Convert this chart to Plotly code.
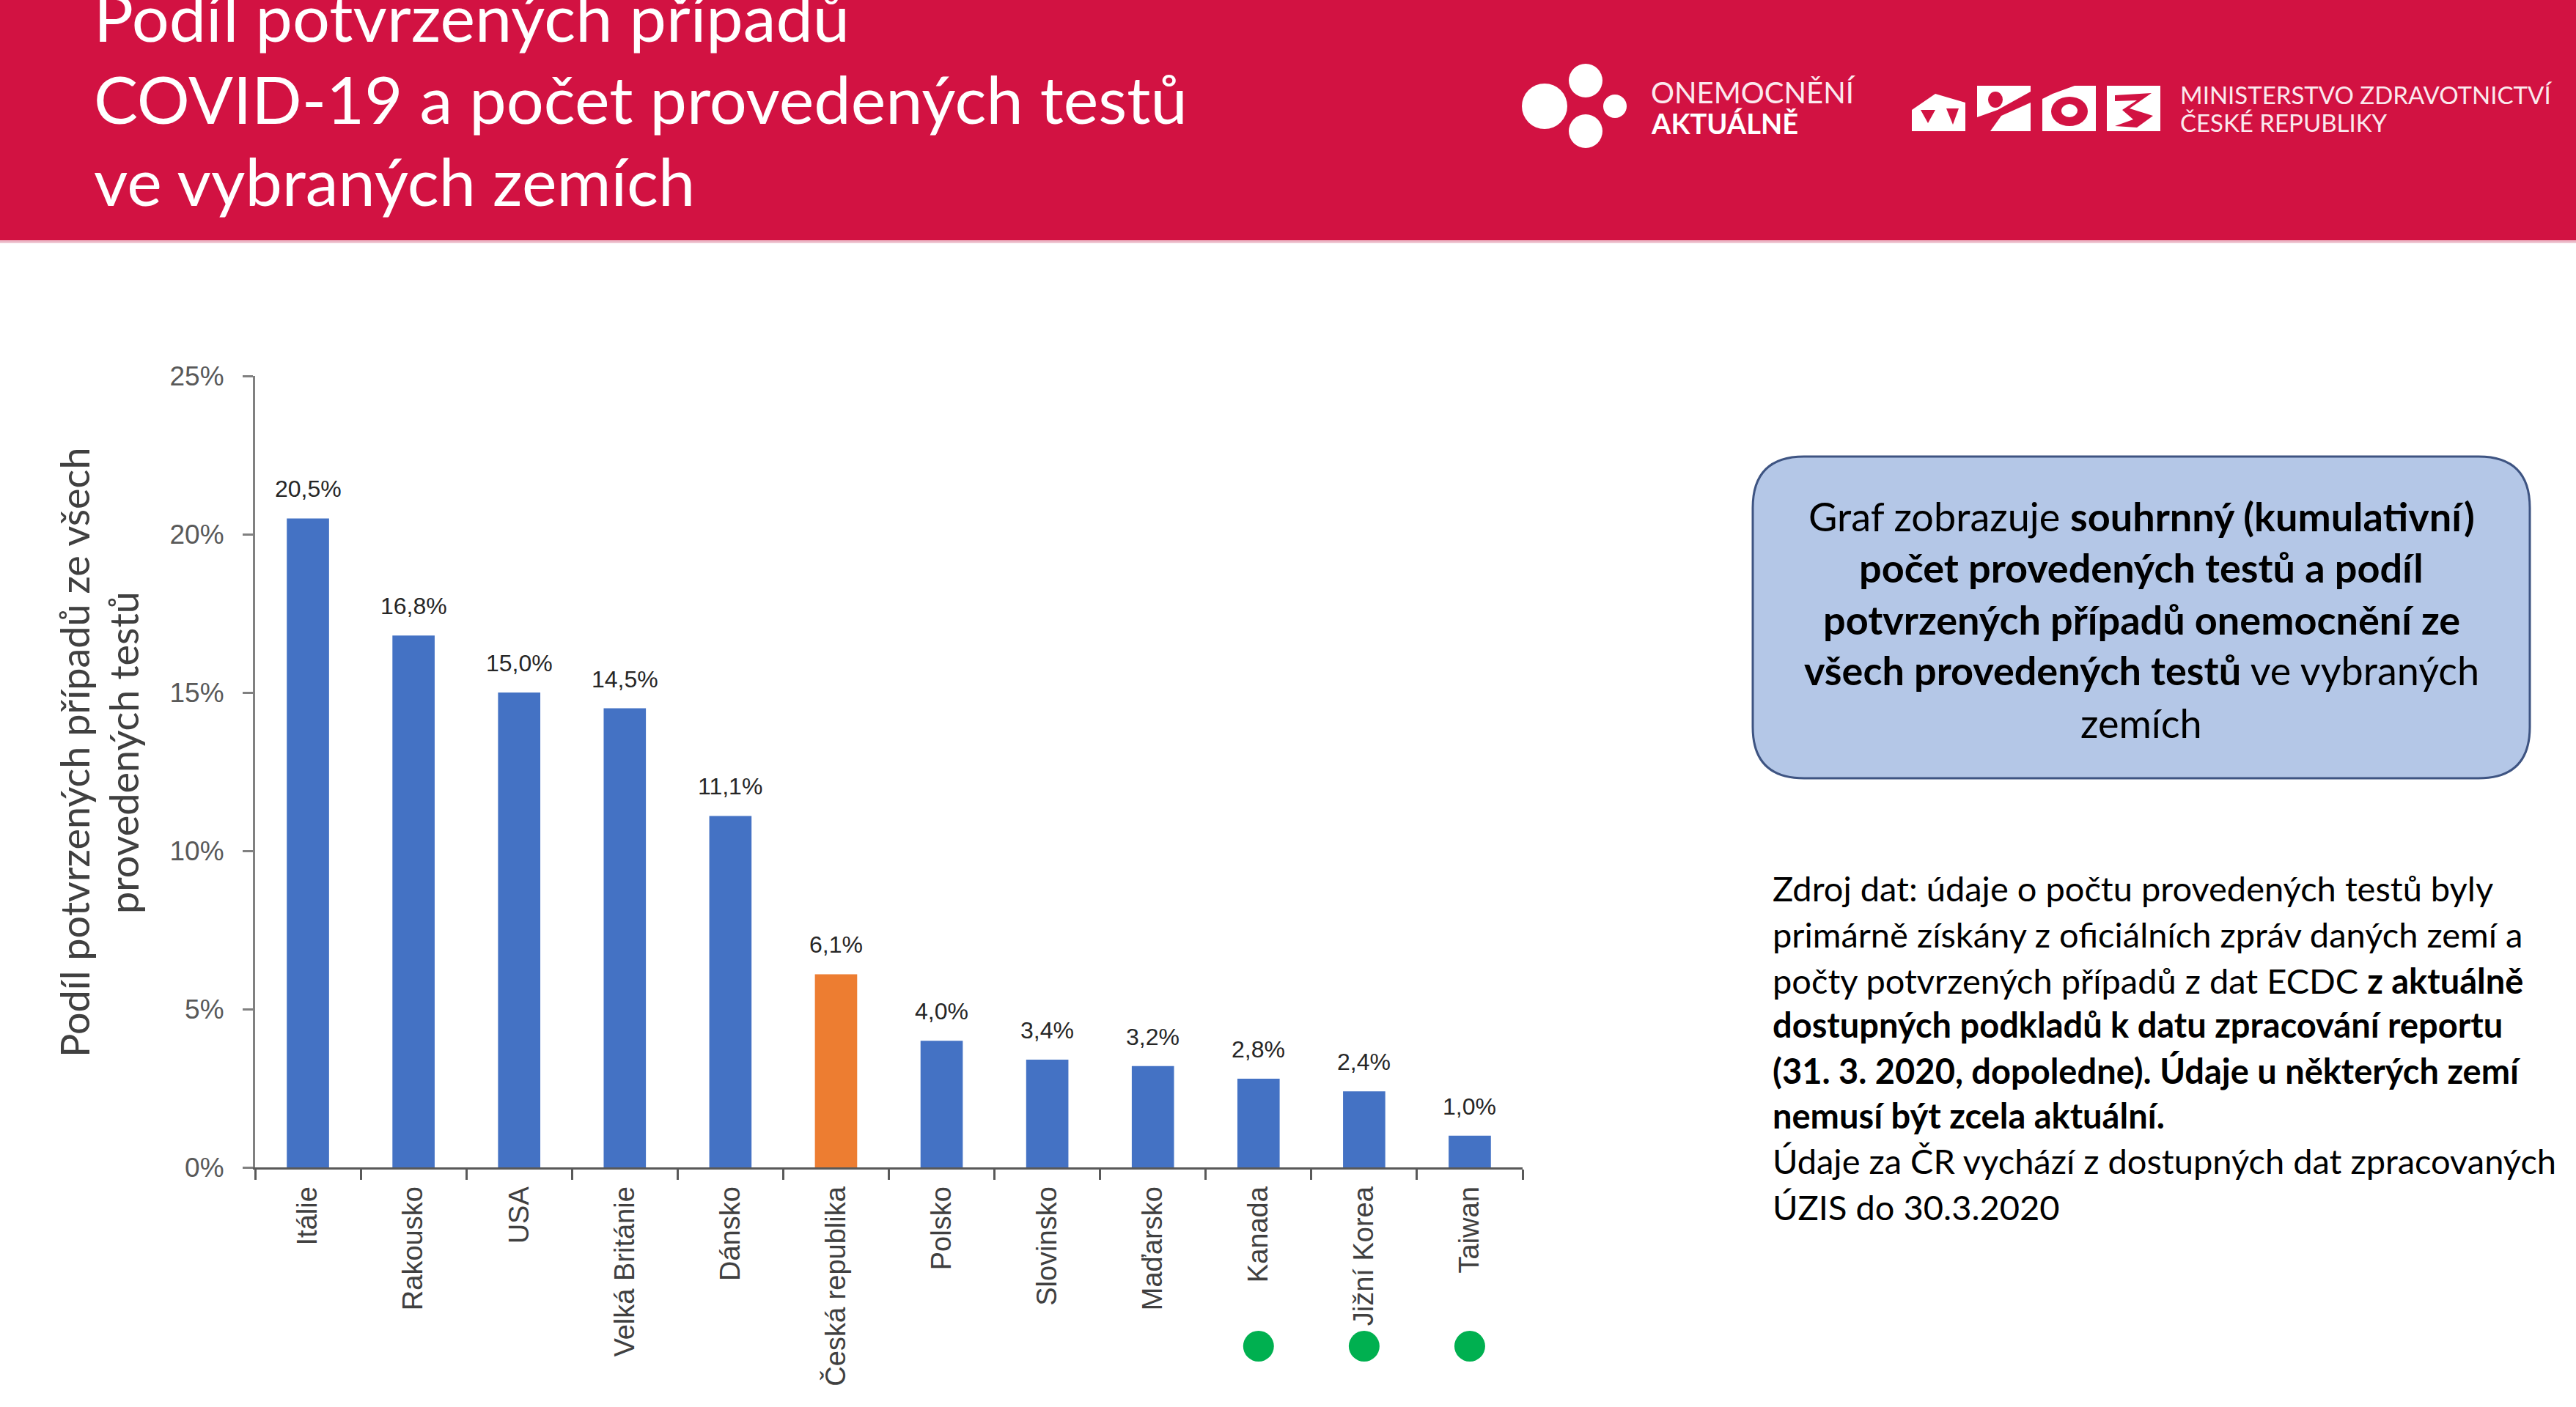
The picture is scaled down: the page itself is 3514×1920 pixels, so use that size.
import plotly.graph_objects as go

# ---------------- data ----------------
countries = ["Itálie", "Rakousko", "USA", "Velká Británie", "Dánsko", "Česká republika",
             "Polsko", "Slovinsko", "Maďarsko", "Kanada", "Jižní Korea", "Taiwan"]
share_pct = [20.5, 16.8, 15.0, 14.5, 11.1, 6.1, 4.0, 3.4, 3.2, 2.8, 2.4, 1.0]
highlight_country = "Česká republika"
green_flag_countries = ["Kanada", "Jižní Korea", "Taiwan"]
y_ticks = [0, 5, 10, 15, 20, 25]
y_tick_text = [f"{v}%" for v in y_ticks]

title_lines = ["Podíl potvrzených případů",
               "COVID-19 a počet provedených testů",
               "ve vybraných zemích"]
yaxis_title_lines = ["Podíl potvrzených případů ze všech", "provedených testů"]
box_lines = ["Graf zobrazuje <b>souhrnný (kumulativní)</b>",
             "<b>počet provedených testů a podíl</b>",
             "<b>potvrzených případů onemocnění ze</b>",
             "<b>všech provedených testů</b> ve vybraných",
             "zemích"]
source_lines = ["Zdroj dat: údaje o počtu provedených testů byly",
                "primárně získány z oficiálních zpráv daných zemí a",
                "počty potvrzených případů z dat ECDC <b>z aktuálně</b>",
                "<b>dostupných podkladů k datu zpracování reportu</b>",
                "<b>(31. 3. 2020, dopoledne). Údaje u některých zemí</b>",
                "<b>nemusí být zcela aktuální.</b>",
                "Údaje za ČR vychází z dostupných dat zpracovaných",
                "ÚZIS do 30.3.2020"]

# ---------------- helpers ----------------
W, H = 3514, 1920
def PX(x): return x / W
def PY(y): return 1 - y / H

RED = "#D21242"
BLUE = "#4472C4"
ORANGE = "#ED7D31"
CAL = "Lato, 'Open Sans', sans-serif"
ARIAL = "'Liberation Sans', Arial, sans-serif"

colors = [ORANGE if c == highlight_country else BLUE for c in countries]
labels = [f"{v:.1f}".replace(".", ",") + "%" for v in share_pct]

fig = go.Figure()
fig.add_trace(go.Bar(x=countries, y=share_pct, marker=dict(color=colors, line=dict(width=0)),
                     hoverinfo="x+y"))

annotations = []
shapes = []

# data labels
for c, v, t in zip(countries, share_pct, labels):
    annotations.append(dict(x=c, y=v, xref="x", yref="y", text=t, showarrow=False,
                            yanchor="middle", yshift=40,
                            font=dict(family=ARIAL, size=32, color="#262626")))

# green dots under selected countries
for c in green_flag_countries:
    shapes.append(dict(type="circle", xref="x", yref="paper", xsizemode="pixel", ysizemode="pixel",
                       xanchor=c, yanchor=PY(1837), x0=-21, x1=21, y0=-21, y1=21,
                       fillcolor="#00B050", line=dict(width=0)))

# header band
shapes.append(dict(type="rect", xref="paper", yref="paper", x0=0, x1=1, y0=PY(328), y1=1,
                   fillcolor=RED, line=dict(width=0), layer="below"))
shapes.append(dict(type="line", xref="paper", yref="paper", x0=0, x1=1, y0=PY(330), y1=PY(330),
                   line=dict(color="#EBB7C6", width=3)))

# title
for txt, yc in zip(title_lines, [22, 134, 246]):
    annotations.append(dict(x=PX(126), y=PY(yc), xref="paper", yref="paper", text=txt,
                            showarrow=False, xanchor="left", yanchor="middle",
                            font=dict(family=CAL, size=90, color="white")))

# logo: Onemocnění aktuálně (circles)
for cx, cy, r in [(2107, 145, 31), (2163, 110, 23), (2203, 145, 16), (2163, 179, 23)]:
    shapes.append(dict(type="circle", xref="paper", yref="paper",
                       x0=PX(cx - r), x1=PX(cx + r), y0=PY(cy + r), y1=PY(cy - r),
                       fillcolor="white", line=dict(width=0)))
annotations.append(dict(x=PX(2250), y=PY(126), xref="paper", yref="paper", text="ONEMOCNĚNÍ",
                        showarrow=False, xanchor="left", yanchor="middle",
                        font=dict(family=CAL, size=40, color="#FBE9EE")))
annotations.append(dict(x=PX(2250), y=PY(168), xref="paper", yref="paper", text="<b>AKTUÁLNĚ</b>",
                        showarrow=False, xanchor="left", yanchor="middle",
                        font=dict(family=CAL, size=38, color="white")))

# logo: MZ squares
sq_x = [2608, 2697, 2786, 2874]
for x0 in sq_x:
    shapes.append(dict(type="rect", xref="paper", yref="paper", x0=PX(x0), x1=PX(x0 + 73),
                       y0=PY(179), y1=PY(117), fillcolor="white", line=dict(width=0)))
def path(pts):
    return "M " + " L ".join(f"{PX(x)},{PY(y)}" for x, y in pts) + " Z"
# square 1: red triangles
shapes.append(dict(type="path", xref="paper", yref="paper", path=path([(2608, 117), (2681, 117), (2681, 140), (2640, 128), (2608, 150)]),
                   fillcolor=RED, line=dict(width=0)))
shapes.append(dict(type="path", xref="paper", yref="paper", path=path([(2620, 150), (2640, 150), (2630, 168)]),
                   fillcolor=RED, line=dict(width=0)))
shapes.append(dict(type="path", xref="paper", yref="paper", path=path([(2655, 148), (2672, 148), (2664, 170)]),
                   fillcolor=RED, line=dict(width=0)))
# square 2: "Y"
shapes.append(dict(type="circle", xref="paper", yref="paper", x0=PX(2712), x1=PX(2732), y0=PY(147), y1=PY(125),
                   fillcolor=RED, line=dict(width=0)))
shapes.append(dict(type="path", xref="paper", yref="paper", path=path([(2697, 160), (2725, 150), (2770, 125), (2770, 140), (2730, 158), (2715, 179), (2697, 179)]),
                   fillcolor=RED, line=dict(width=0)))
# square 3: "o"
shapes.append(dict(type="circle", xref="paper", yref="paper", x0=PX(2798), x1=PX(2848), y0=PY(172), y1=PY(132),
                   fillcolor=RED, line=dict(width=0)))
shapes.append(dict(type="circle", xref="paper", yref="paper", x0=PX(2812), x1=PX(2834), y0=PY(160), y1=PY(142),
                   fillcolor="white", line=dict(width=0)))
shapes.append(dict(type="path", xref="paper", yref="paper", path=path([(2786, 117), (2830, 117), (2800, 128), (2786, 135)]),
                   fillcolor=RED, line=dict(width=0)))
# square 4: "3"
shapes.append(dict(type="path", xref="paper", yref="paper", path=path([(2885, 130), (2935, 127), (2905, 148), (2937, 158), (2915, 174), (2885, 172), (2910, 163), (2895, 150), (2915, 137), (2885, 138)]),
                   fillcolor=RED, line=dict(width=0)))
annotations.append(dict(x=PX(2972), y=PY(129), xref="paper", yref="paper", text="MINISTERSTVO ZDRAVOTNICTVÍ",
                        showarrow=False, xanchor="left", yanchor="middle",
                        font=dict(family=CAL, size=33, color="#FBE9EE")))
annotations.append(dict(x=PX(2972), y=PY(167), xref="paper", yref="paper", text="ČESKÉ REPUBLIKY",
                        showarrow=False, xanchor="left", yanchor="middle",
                        font=dict(family=CAL, size=33, color="#FBE9EE")))

# y-axis title (two rotated lines)
for txt, xc in zip(yaxis_title_lines, [101, 168]):
    annotations.append(dict(x=PX(xc), y=PY(1027), xref="paper", yref="paper", text=txt,
                            showarrow=False, textangle=-90, xanchor="center", yanchor="middle",
                            font=dict(family=CAL, size=54, color="#404040")))

# rounded box
bx0, bx1, by0, by1, r = 2391, 3451, 623, 1062, 70
box_path = (f"M {PX(bx0 + r)},{PY(by0)} L {PX(bx1 - r)},{PY(by0)} "
            f"Q {PX(bx1)},{PY(by0)} {PX(bx1)},{PY(by0 + r)} L {PX(bx1)},{PY(by1 - r)} "
            f"Q {PX(bx1)},{PY(by1)} {PX(bx1 - r)},{PY(by1)} L {PX(bx0 + r)},{PY(by1)} "
            f"Q {PX(bx0)},{PY(by1)} {PX(bx0)},{PY(by1 - r)} L {PX(bx0)},{PY(by0 + r)} "
            f"Q {PX(bx0)},{PY(by0)} {PX(bx0 + r)},{PY(by0)} Z")
shapes.append(dict(type="path", xref="paper", yref="paper", path=box_path,
                   fillcolor="#B4C7E7", line=dict(color="#3E5482", width=3)))
for txt, yc in zip(box_lines, [704, 775, 845, 914, 986]):
    annotations.append(dict(x=PX((bx0 + bx1) / 2), y=PY(yc), xref="paper", yref="paper", text=txt,
                            showarrow=False, xanchor="center", yanchor="middle",
                            font=dict(family=CAL, size=54, color="black")))

# source text
for txt, yc in zip(source_lines, [1212, 1275, 1338, 1398, 1461, 1522, 1584, 1647]):
    annotations.append(dict(x=PX(2416), y=PY(yc), xref="paper", yref="paper", text=txt,
                            showarrow=False, xanchor="left", yanchor="middle",
                            font=dict(family=CAL, size=47, color="black")))

fig.update_layout(
    width=W, height=H, margin=dict(l=0, r=0, t=0, b=0),
    paper_bgcolor="white", plot_bgcolor="white", showlegend=False,
    bargap=0.6,
    shapes=shapes, annotations=annotations,
    xaxis=dict(domain=[PX(348), PX(2077)], type="category", showline=True, linecolor="#595959",
               linewidth=3, ticks="outside", tickson="boundaries", ticklen=14, tickwidth=3,
               tickcolor="#595959", tickangle=-90, showgrid=False, ticklabelstandoff=8,
               tickfont=dict(family=ARIAL, size=38, color="#404040"), automargin=False),
    yaxis=dict(domain=[PY(1593), PY(513)], range=[0, 25], tickmode="array", tickvals=y_ticks,
               ticktext=y_tick_text, ticklabelstandoff=18,
               showline=True, linecolor="#808080", linewidth=3, ticks="outside", ticklen=14,
               tickwidth=3, tickcolor="#808080", showgrid=False, zeroline=False,
               tickfont=dict(family=ARIAL, size=37, color="#595959"), automargin=False),
)

fig.write_html("out.html")
